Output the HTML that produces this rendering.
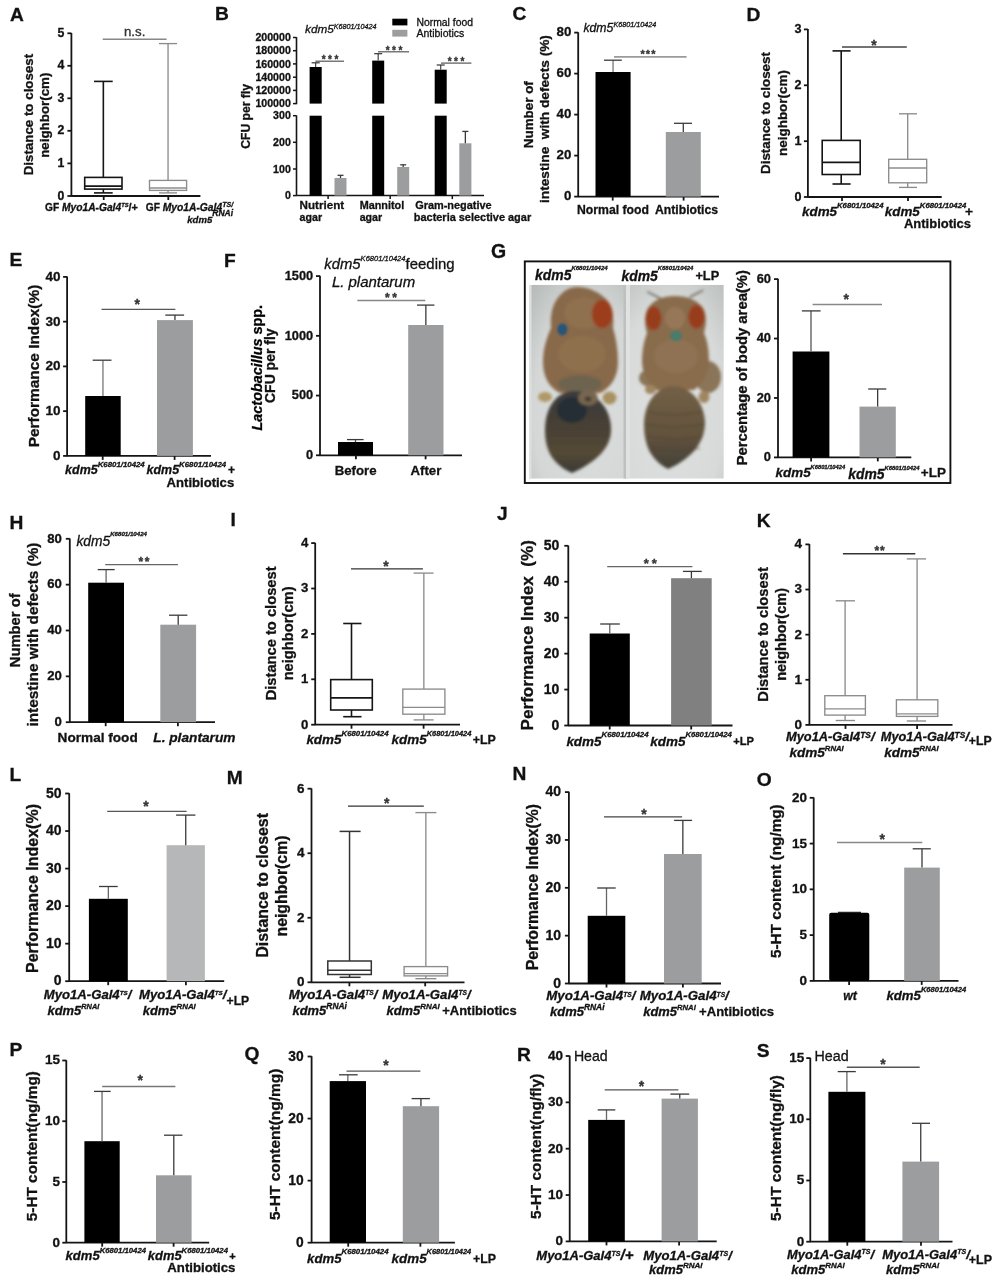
<!DOCTYPE html>
<html><head><meta charset="utf-8"><style>
html,body{margin:0;padding:0;background:#fff;width:998px;height:1281px;overflow:hidden}
svg{display:block;font-family:"Liberation Sans", sans-serif;will-change:transform}
text{stroke:#111;stroke-width:0.3px;paint-order:stroke}

</style></head><body>
<svg width="998" height="1281" viewBox="0 0 998 1281">
<rect width="998" height="1281" fill="#fff"/>

<text x="10.00" y="20.50" font-size="19.20" font-weight="bold" font-style="normal" text-anchor="start" fill="#111">A</text>
<line x1="71.40" y1="33.00" x2="71.40" y2="196.30" stroke="#151515" stroke-width="1.8"/>
<line x1="67.40" y1="33.30" x2="71.40" y2="33.30" stroke="#151515" stroke-width="1.8"/>
<text x="64.40" y="36.87" font-size="12.30" font-weight="bold" font-style="normal" text-anchor="end" fill="#111">5</text>
<line x1="67.40" y1="65.80" x2="71.40" y2="65.80" stroke="#151515" stroke-width="1.8"/>
<text x="64.40" y="69.37" font-size="12.30" font-weight="bold" font-style="normal" text-anchor="end" fill="#111">4</text>
<line x1="67.40" y1="98.30" x2="71.40" y2="98.30" stroke="#151515" stroke-width="1.8"/>
<text x="64.40" y="101.87" font-size="12.30" font-weight="bold" font-style="normal" text-anchor="end" fill="#111">3</text>
<line x1="67.40" y1="130.80" x2="71.40" y2="130.80" stroke="#151515" stroke-width="1.8"/>
<text x="64.40" y="134.37" font-size="12.30" font-weight="bold" font-style="normal" text-anchor="end" fill="#111">2</text>
<line x1="67.40" y1="163.40" x2="71.40" y2="163.40" stroke="#151515" stroke-width="1.8"/>
<text x="64.40" y="166.97" font-size="12.30" font-weight="bold" font-style="normal" text-anchor="end" fill="#111">1</text>
<line x1="67.40" y1="196.00" x2="71.40" y2="196.00" stroke="#151515" stroke-width="1.8"/>
<text x="64.40" y="199.57" font-size="12.30" font-weight="bold" font-style="normal" text-anchor="end" fill="#111">0</text>
<line x1="71.10" y1="196.00" x2="200.40" y2="196.00" stroke="#151515" stroke-width="1.8"/>
<line x1="103.70" y1="196.00" x2="103.70" y2="200.00" stroke="#151515" stroke-width="1.8"/>
<line x1="168.30" y1="196.00" x2="168.30" y2="200.00" stroke="#151515" stroke-width="1.8"/>
<rect x="84.70" y="177.40" width="37.30" height="11.70" fill="none" stroke="#151515" stroke-width="1.6"/>
<line x1="84.70" y1="186.10" x2="122.00" y2="186.10" stroke="#151515" stroke-width="1.6"/>
<line x1="103.35" y1="177.40" x2="103.35" y2="81.40" stroke="#151515" stroke-width="1.6"/>
<line x1="103.35" y1="189.10" x2="103.35" y2="192.90" stroke="#151515" stroke-width="1.6"/>
<line x1="94.00" y1="81.40" x2="112.70" y2="81.40" stroke="#151515" stroke-width="1.6"/>
<line x1="94.00" y1="192.90" x2="112.70" y2="192.90" stroke="#151515" stroke-width="1.6"/>
<rect x="149.50" y="180.40" width="37.10" height="10.00" fill="none" stroke="#8c8c8c" stroke-width="1.35"/>
<line x1="149.50" y1="188.00" x2="186.60" y2="188.00" stroke="#8c8c8c" stroke-width="1.35"/>
<line x1="168.05" y1="180.40" x2="168.05" y2="43.60" stroke="#8c8c8c" stroke-width="1.35"/>
<line x1="168.05" y1="190.40" x2="168.05" y2="192.90" stroke="#8c8c8c" stroke-width="1.35"/>
<line x1="159.00" y1="43.60" x2="177.00" y2="43.60" stroke="#8c8c8c" stroke-width="1.35"/>
<line x1="159.00" y1="192.90" x2="177.00" y2="192.90" stroke="#8c8c8c" stroke-width="1.35"/>
<line x1="102.70" y1="39.30" x2="166.60" y2="39.30" stroke="#888" stroke-width="1.5"/>
<text x="124.00" y="36.30" font-size="13.22" font-weight="normal" font-style="normal" text-anchor="start" fill="#333">n.s.</text>
<text x="33.40" y="114.60" font-size="13.33" font-weight="bold" font-style="normal" text-anchor="middle" fill="#111" transform="rotate(-90 33.40 114.60)">Distance to closest</text>
<text x="49.30" y="115.20" font-size="13.34" font-weight="bold" font-style="normal" text-anchor="middle" fill="#111" transform="rotate(-90 49.30 115.20)">neighbor(cm)</text>
<g transform="translate(0.00,0)"><text x="45.00" y="210.60" font-size="10.20" font-weight="bold" font-style="normal" fill="#111">GF </text><text x="62.00" y="210.60" font-size="10.24" font-weight="bold" font-style="italic" fill="#111">Myo1A-Gal4</text><text x="121.20" y="206.60" font-size="5.79" font-weight="bold" font-style="italic" fill="#111">TS</text><text x="128.60" y="210.60" font-size="10.91" font-weight="bold" font-style="normal" fill="#111">/+</text></g>
<g transform="translate(0.00,0)"><text x="145.80" y="210.60" font-size="10.20" font-weight="bold" font-style="normal" fill="#111">GF </text><text x="162.80" y="210.60" font-size="10.28" font-weight="bold" font-style="italic" fill="#111">Myo1A-Gal4</text><text x="222.20" y="207.10" font-size="7.07" font-weight="bold" font-style="italic" fill="#111">TS/</text></g>
<g transform="translate(0.00,0)"><text x="187.30" y="223.00" font-size="9.57" font-weight="bold" font-style="italic" fill="#111">kdm5</text><text x="212.30" y="215.50" font-size="8.47" font-weight="bold" font-style="italic" fill="#111">RNAi</text></g>
<text x="215.00" y="20.20" font-size="19.20" font-weight="bold" font-style="normal" text-anchor="start" fill="#111">B</text>
<line x1="296.50" y1="37.20" x2="296.50" y2="104.20" stroke="#151515" stroke-width="1.6"/>
<line x1="293.00" y1="37.50" x2="296.50" y2="37.50" stroke="#151515" stroke-width="1.5"/>
<text x="290.80" y="41.26" font-size="10.60" font-weight="bold" font-style="normal" text-anchor="end" fill="#111">200000</text>
<line x1="293.00" y1="50.70" x2="296.50" y2="50.70" stroke="#151515" stroke-width="1.5"/>
<text x="290.80" y="54.46" font-size="10.60" font-weight="bold" font-style="normal" text-anchor="end" fill="#111">180000</text>
<line x1="293.00" y1="63.90" x2="296.50" y2="63.90" stroke="#151515" stroke-width="1.5"/>
<text x="290.80" y="67.66" font-size="10.60" font-weight="bold" font-style="normal" text-anchor="end" fill="#111">160000</text>
<line x1="293.00" y1="77.20" x2="296.50" y2="77.20" stroke="#151515" stroke-width="1.5"/>
<text x="290.80" y="80.96" font-size="10.60" font-weight="bold" font-style="normal" text-anchor="end" fill="#111">140000</text>
<line x1="293.00" y1="90.40" x2="296.50" y2="90.40" stroke="#151515" stroke-width="1.5"/>
<text x="290.80" y="94.16" font-size="10.60" font-weight="bold" font-style="normal" text-anchor="end" fill="#111">120000</text>
<line x1="293.00" y1="103.60" x2="296.50" y2="103.60" stroke="#151515" stroke-width="1.5"/>
<text x="290.80" y="107.36" font-size="10.60" font-weight="bold" font-style="normal" text-anchor="end" fill="#111">100000</text>
<line x1="296.50" y1="115.40" x2="296.50" y2="195.60" stroke="#151515" stroke-width="1.6"/>
<line x1="293.00" y1="115.70" x2="296.50" y2="115.70" stroke="#151515" stroke-width="1.5"/>
<text x="290.80" y="119.46" font-size="10.60" font-weight="bold" font-style="normal" text-anchor="end" fill="#111">300</text>
<line x1="293.00" y1="142.30" x2="296.50" y2="142.30" stroke="#151515" stroke-width="1.5"/>
<text x="290.80" y="146.06" font-size="10.60" font-weight="bold" font-style="normal" text-anchor="end" fill="#111">200</text>
<line x1="293.00" y1="169.00" x2="296.50" y2="169.00" stroke="#151515" stroke-width="1.5"/>
<text x="290.80" y="172.76" font-size="10.60" font-weight="bold" font-style="normal" text-anchor="end" fill="#111">100</text>
<line x1="293.00" y1="195.60" x2="296.50" y2="195.60" stroke="#151515" stroke-width="1.5"/>
<text x="290.80" y="199.36" font-size="10.60" font-weight="bold" font-style="normal" text-anchor="end" fill="#111">0</text>
<line x1="296.20" y1="195.60" x2="484.00" y2="195.60" stroke="#151515" stroke-width="1.5"/>
<line x1="328.10" y1="195.60" x2="328.10" y2="199.10" stroke="#151515" stroke-width="1.5"/>
<line x1="390.20" y1="195.60" x2="390.20" y2="199.10" stroke="#151515" stroke-width="1.5"/>
<line x1="452.30" y1="195.60" x2="452.30" y2="199.10" stroke="#151515" stroke-width="1.5"/>
<rect x="309.60" y="67.00" width="12.10" height="36.60" fill="#000"/>
<rect x="309.60" y="115.70" width="12.10" height="79.90" fill="#000"/>
<line x1="315.65" y1="67.00" x2="315.65" y2="62.80" stroke="#444" stroke-width="1.2"/>
<line x1="311.60" y1="62.80" x2="319.70" y2="62.80" stroke="#333" stroke-width="1.2"/>
<rect x="372.20" y="60.60" width="12.00" height="43.00" fill="#000"/>
<rect x="372.20" y="115.70" width="12.00" height="79.90" fill="#000"/>
<line x1="378.20" y1="60.60" x2="378.20" y2="53.70" stroke="#444" stroke-width="1.2"/>
<line x1="374.20" y1="53.70" x2="382.20" y2="53.70" stroke="#333" stroke-width="1.2"/>
<rect x="434.70" y="69.70" width="12.00" height="33.90" fill="#000"/>
<rect x="434.70" y="115.70" width="12.00" height="79.90" fill="#000"/>
<line x1="440.70" y1="69.70" x2="440.70" y2="65.00" stroke="#444" stroke-width="1.2"/>
<line x1="436.70" y1="65.00" x2="444.70" y2="65.00" stroke="#333" stroke-width="1.2"/>
<rect x="334.50" y="178.00" width="12.00" height="17.60" fill="#9c9d9f"/>
<line x1="340.50" y1="178.00" x2="340.50" y2="175.30" stroke="#3a3a3a" stroke-width="1.3"/>
<line x1="337.50" y1="175.30" x2="343.50" y2="175.30" stroke="#3a3a3a" stroke-width="1.3"/>
<rect x="397.20" y="167.00" width="12.00" height="28.60" fill="#9c9d9f"/>
<line x1="403.20" y1="167.00" x2="403.20" y2="164.80" stroke="#3a3a3a" stroke-width="1.3"/>
<line x1="400.20" y1="164.80" x2="406.20" y2="164.80" stroke="#3a3a3a" stroke-width="1.3"/>
<rect x="459.30" y="143.30" width="12.10" height="52.30" fill="#9c9d9f"/>
<line x1="465.35" y1="143.30" x2="465.35" y2="131.40" stroke="#3a3a3a" stroke-width="1.3"/>
<line x1="462.30" y1="131.40" x2="468.40" y2="131.40" stroke="#3a3a3a" stroke-width="1.3"/>
<line x1="315.40" y1="61.20" x2="344.00" y2="61.20" stroke="#555" stroke-width="1.2"/>
<text x="330.00" y="62.90" font-size="10" font-weight="bold" text-anchor="middle" fill="#333" textLength="16.60" lengthAdjust="spacing">***</text>
<line x1="378.00" y1="51.80" x2="409.00" y2="51.80" stroke="#555" stroke-width="1.2"/>
<text x="394.00" y="53.70" font-size="10" font-weight="bold" text-anchor="middle" fill="#333" textLength="16.60" lengthAdjust="spacing">***</text>
<line x1="441.00" y1="63.10" x2="471.40" y2="63.10" stroke="#555" stroke-width="1.2"/>
<text x="456.00" y="64.70" font-size="10" font-weight="bold" text-anchor="middle" fill="#333" textLength="16.60" lengthAdjust="spacing">***</text>
<rect x="392.30" y="18.70" width="15.10" height="6.70" fill="#000"/>
<rect x="392.30" y="29.80" width="15.10" height="6.80" fill="#9c9d9f"/>
<text x="416.50" y="25.60" font-size="10.37" font-weight="normal" font-style="normal" text-anchor="start" fill="#111">Normal food</text>
<text x="416.50" y="36.60" font-size="10.47" font-weight="normal" font-style="normal" text-anchor="start" fill="#111">Antibiotics</text>
<g transform="translate(0.00,0)"><text x="305.00" y="33.00" font-size="11.78" font-weight="normal" font-style="italic" fill="#111">kdm5</text><text x="333.80" y="28.50" font-size="7.18" font-weight="normal" font-style="italic" fill="#111">K6801/10424</text></g>
<text x="250.20" y="116.40" font-size="12.15" font-weight="bold" font-style="normal" text-anchor="middle" fill="#111" transform="rotate(-90 250.20 116.40)">CFU per fly</text>
<text x="299.60" y="209.40" font-size="11.61" font-weight="bold" font-style="normal" text-anchor="start" fill="#111">Nutrient</text>
<text x="299.60" y="220.50" font-size="10.61" font-weight="bold" font-style="normal" text-anchor="start" fill="#111">agar</text>
<text x="359.70" y="209.40" font-size="10.83" font-weight="bold" font-style="normal" text-anchor="start" fill="#111">Mannitol</text>
<text x="359.70" y="220.50" font-size="10.61" font-weight="bold" font-style="normal" text-anchor="start" fill="#111">agar</text>
<text x="415.20" y="209.40" font-size="10.93" font-weight="bold" font-style="normal" text-anchor="start" fill="#111">Gram-negative</text>
<text x="413.80" y="220.50" font-size="10.95" font-weight="bold" font-style="normal" text-anchor="start" fill="#111">bacteria selective agar</text>
<text x="512.50" y="20.00" font-size="19.20" font-weight="bold" font-style="normal" text-anchor="start" fill="#111">C</text>
<line x1="578.20" y1="32.30" x2="578.20" y2="196.90" stroke="#151515" stroke-width="1.8"/>
<line x1="574.20" y1="32.60" x2="578.20" y2="32.60" stroke="#151515" stroke-width="1.8"/>
<text x="571.40" y="36.46" font-size="13.30" font-weight="bold" font-style="normal" text-anchor="end" fill="#111">80</text>
<line x1="574.20" y1="73.60" x2="578.20" y2="73.60" stroke="#151515" stroke-width="1.8"/>
<text x="571.40" y="77.46" font-size="13.30" font-weight="bold" font-style="normal" text-anchor="end" fill="#111">60</text>
<line x1="574.20" y1="114.60" x2="578.20" y2="114.60" stroke="#151515" stroke-width="1.8"/>
<text x="571.40" y="118.46" font-size="13.30" font-weight="bold" font-style="normal" text-anchor="end" fill="#111">40</text>
<line x1="574.20" y1="155.60" x2="578.20" y2="155.60" stroke="#151515" stroke-width="1.8"/>
<text x="571.40" y="159.46" font-size="13.30" font-weight="bold" font-style="normal" text-anchor="end" fill="#111">20</text>
<line x1="574.20" y1="196.60" x2="578.20" y2="196.60" stroke="#151515" stroke-width="1.8"/>
<text x="571.40" y="200.46" font-size="13.30" font-weight="bold" font-style="normal" text-anchor="end" fill="#111">0</text>
<line x1="577.90" y1="196.60" x2="719.00" y2="196.60" stroke="#151515" stroke-width="1.8"/>
<line x1="612.70" y1="196.60" x2="612.70" y2="200.60" stroke="#151515" stroke-width="1.8"/>
<line x1="683.60" y1="196.60" x2="683.60" y2="200.60" stroke="#151515" stroke-width="1.8"/>
<rect x="595.50" y="72.00" width="35.10" height="124.60" fill="#000"/>
<line x1="613.05" y1="72.00" x2="613.05" y2="60.20" stroke="#777" stroke-width="1.3"/>
<line x1="604.00" y1="60.20" x2="621.80" y2="60.20" stroke="#3a3a3a" stroke-width="1.3"/>
<rect x="665.80" y="132.00" width="35.00" height="64.60" fill="#9c9d9f"/>
<line x1="683.30" y1="132.00" x2="683.30" y2="123.30" stroke="#3a3a3a" stroke-width="1.3"/>
<line x1="674.00" y1="123.30" x2="692.00" y2="123.30" stroke="#3a3a3a" stroke-width="1.3"/>
<line x1="614.00" y1="56.90" x2="686.60" y2="56.90" stroke="#9a9a9a" stroke-width="1.7"/>
<text x="648.00" y="58.11" font-size="11" font-weight="bold" text-anchor="middle" fill="#333" textLength="15.00" lengthAdjust="spacing">***</text>
<g transform="translate(0.00,0)"><text x="583.40" y="32.00" font-size="12.27" font-weight="normal" font-style="italic" fill="#111">kdm5</text><text x="613.40" y="27.00" font-size="7.23" font-weight="normal" font-style="italic" fill="#111">K6801/10424</text></g>
<text x="532.80" y="114.70" font-size="13.40" font-weight="bold" font-style="normal" text-anchor="middle" fill="#111" transform="rotate(-90 532.80 114.70)">Number of</text>
<text x="549.30" y="119.00" font-size="13.68" font-weight="bold" font-style="normal" text-anchor="middle" fill="#111" transform="rotate(-90 549.30 119.00)">intestine  with defects (%)</text>
<text x="577.00" y="214.00" font-size="12.23" font-weight="bold" font-style="normal" text-anchor="start" fill="#111">Normal food</text>
<text x="655.00" y="214.00" font-size="12.19" font-weight="bold" font-style="normal" text-anchor="start" fill="#111">Antibiotics</text>
<text x="746.50" y="20.70" font-size="19.20" font-weight="bold" font-style="normal" text-anchor="start" fill="#111">D</text>
<line x1="807.90" y1="29.10" x2="807.90" y2="197.30" stroke="#151515" stroke-width="1.8"/>
<line x1="803.90" y1="29.40" x2="807.90" y2="29.40" stroke="#151515" stroke-width="1.8"/>
<text x="801.50" y="33.05" font-size="12.60" font-weight="bold" font-style="normal" text-anchor="end" fill="#111">3</text>
<line x1="803.90" y1="85.30" x2="807.90" y2="85.30" stroke="#151515" stroke-width="1.8"/>
<text x="801.50" y="88.95" font-size="12.60" font-weight="bold" font-style="normal" text-anchor="end" fill="#111">2</text>
<line x1="803.90" y1="141.20" x2="807.90" y2="141.20" stroke="#151515" stroke-width="1.8"/>
<text x="801.50" y="144.85" font-size="12.60" font-weight="bold" font-style="normal" text-anchor="end" fill="#111">1</text>
<line x1="803.90" y1="197.00" x2="807.90" y2="197.00" stroke="#151515" stroke-width="1.8"/>
<text x="801.50" y="200.65" font-size="12.60" font-weight="bold" font-style="normal" text-anchor="end" fill="#111">0</text>
<line x1="807.40" y1="197.00" x2="941.70" y2="197.00" stroke="#151515" stroke-width="1.8"/>
<line x1="842.00" y1="197.00" x2="842.00" y2="201.00" stroke="#151515" stroke-width="1.8"/>
<line x1="908.00" y1="197.00" x2="908.00" y2="201.00" stroke="#151515" stroke-width="1.8"/>
<rect x="822.20" y="140.40" width="38.00" height="34.10" fill="none" stroke="#151515" stroke-width="1.6"/>
<line x1="822.20" y1="162.40" x2="860.20" y2="162.40" stroke="#151515" stroke-width="1.6"/>
<line x1="841.20" y1="140.40" x2="841.20" y2="50.90" stroke="#151515" stroke-width="1.6"/>
<line x1="841.20" y1="174.50" x2="841.20" y2="184.00" stroke="#151515" stroke-width="1.6"/>
<line x1="832.50" y1="50.90" x2="850.60" y2="50.90" stroke="#151515" stroke-width="1.6"/>
<line x1="832.50" y1="184.00" x2="850.60" y2="184.00" stroke="#151515" stroke-width="1.6"/>
<rect x="888.70" y="159.30" width="38.00" height="23.50" fill="none" stroke="#8c8c8c" stroke-width="1.35"/>
<line x1="888.70" y1="168.00" x2="926.70" y2="168.00" stroke="#8c8c8c" stroke-width="1.35"/>
<line x1="907.70" y1="159.30" x2="907.70" y2="113.80" stroke="#8c8c8c" stroke-width="1.35"/>
<line x1="907.70" y1="182.80" x2="907.70" y2="187.40" stroke="#8c8c8c" stroke-width="1.35"/>
<line x1="899.00" y1="113.80" x2="917.00" y2="113.80" stroke="#8c8c8c" stroke-width="1.35"/>
<line x1="899.00" y1="187.40" x2="917.00" y2="187.40" stroke="#8c8c8c" stroke-width="1.35"/>
<line x1="842.00" y1="47.00" x2="906.80" y2="47.00" stroke="#444" stroke-width="1.3"/>
<text x="874.00" y="49.64" font-size="14" font-weight="bold" text-anchor="middle" fill="#333" textLength="5.50" lengthAdjust="spacing">*</text>
<text x="769.60" y="113.00" font-size="13.39" font-weight="bold" font-style="normal" text-anchor="middle" fill="#111" transform="rotate(-90 769.60 113.00)">Distance to closest</text>
<text x="786.50" y="113.00" font-size="13.46" font-weight="bold" font-style="normal" text-anchor="middle" fill="#111" transform="rotate(-90 786.50 113.00)">neighbor(cm)</text>
<g transform="translate(0.00,0)"><text x="802.00" y="215.90" font-size="13.40" font-weight="bold" font-style="italic" fill="#111">kdm5</text><text x="837.00" y="208.40" font-size="7.74" font-weight="bold" font-style="italic" fill="#111">K6801/10424</text></g>
<g transform="translate(0.00,0)"><text x="884.80" y="215.90" font-size="13.40" font-weight="bold" font-style="italic" fill="#111">kdm5</text><text x="919.80" y="208.40" font-size="7.74" font-weight="bold" font-style="italic" fill="#111">K6801/10424</text></g>
<text x="965.00" y="215.90" font-size="13.70" font-weight="bold" font-style="normal" text-anchor="start" fill="#111">+</text>
<text x="904.00" y="227.50" font-size="12.97" font-weight="bold" font-style="normal" text-anchor="start" fill="#111">Antibiotics</text>
<text x="9.50" y="266.00" font-size="19.20" font-weight="bold" font-style="normal" text-anchor="start" fill="#111">E</text>
<line x1="67.10" y1="276.60" x2="67.10" y2="456.20" stroke="#151515" stroke-width="1.8"/>
<line x1="63.10" y1="276.90" x2="67.10" y2="276.90" stroke="#151515" stroke-width="1.8"/>
<text x="60.60" y="280.81" font-size="13.50" font-weight="bold" font-style="normal" text-anchor="end" fill="#111">40</text>
<line x1="63.10" y1="321.65" x2="67.10" y2="321.65" stroke="#151515" stroke-width="1.8"/>
<text x="60.60" y="325.56" font-size="13.50" font-weight="bold" font-style="normal" text-anchor="end" fill="#111">30</text>
<line x1="63.10" y1="366.40" x2="67.10" y2="366.40" stroke="#151515" stroke-width="1.8"/>
<text x="60.60" y="370.31" font-size="13.50" font-weight="bold" font-style="normal" text-anchor="end" fill="#111">20</text>
<line x1="63.10" y1="411.15" x2="67.10" y2="411.15" stroke="#151515" stroke-width="1.8"/>
<text x="60.60" y="415.06" font-size="13.50" font-weight="bold" font-style="normal" text-anchor="end" fill="#111">10</text>
<line x1="63.10" y1="455.90" x2="67.10" y2="455.90" stroke="#151515" stroke-width="1.8"/>
<text x="60.60" y="459.81" font-size="13.50" font-weight="bold" font-style="normal" text-anchor="end" fill="#111">0</text>
<line x1="66.80" y1="455.90" x2="211.00" y2="455.90" stroke="#151515" stroke-width="1.8"/>
<line x1="102.70" y1="455.90" x2="102.70" y2="459.90" stroke="#151515" stroke-width="1.8"/>
<line x1="174.60" y1="455.90" x2="174.60" y2="459.90" stroke="#151515" stroke-width="1.8"/>
<rect x="85.20" y="396.00" width="35.50" height="59.90" fill="#000"/>
<line x1="102.95" y1="396.00" x2="102.95" y2="360.20" stroke="#777" stroke-width="1.3"/>
<line x1="92.70" y1="360.20" x2="111.50" y2="360.20" stroke="#3a3a3a" stroke-width="1.3"/>
<rect x="157.00" y="320.10" width="35.90" height="135.80" fill="#9c9d9f"/>
<line x1="174.95" y1="320.10" x2="174.95" y2="315.10" stroke="#3a3a3a" stroke-width="1.3"/>
<line x1="165.30" y1="315.10" x2="184.10" y2="315.10" stroke="#3a3a3a" stroke-width="1.3"/>
<line x1="101.50" y1="309.40" x2="175.40" y2="309.40" stroke="#555" stroke-width="1.3"/>
<text x="137.30" y="308.64" font-size="14" font-weight="bold" text-anchor="middle" fill="#333" textLength="5.50" lengthAdjust="spacing">*</text>
<text x="38.60" y="366.00" font-size="15.42" font-weight="bold" font-style="normal" text-anchor="middle" fill="#111" transform="rotate(-90 38.60 366.00)">Performance Index(%)</text>
<g transform="translate(0.00,0)"><text x="65.10" y="474.20" font-size="12.48" font-weight="bold" font-style="italic" fill="#111">kdm5</text><text x="97.70" y="466.70" font-size="7.83" font-weight="bold" font-style="italic" fill="#111">K6801/10424</text></g>
<g transform="translate(0.00,0)"><text x="146.50" y="474.20" font-size="12.48" font-weight="bold" font-style="italic" fill="#111">kdm5</text><text x="179.10" y="466.70" font-size="7.83" font-weight="bold" font-style="italic" fill="#111">K6801/10424</text></g>
<text x="228.00" y="473.50" font-size="11.99" font-weight="bold" font-style="normal" text-anchor="start" fill="#111">+</text>
<text x="166.60" y="486.70" font-size="13.09" font-weight="bold" font-style="normal" text-anchor="start" fill="#111">Antibiotics</text>
<text x="224.00" y="266.50" font-size="19.20" font-weight="bold" font-style="normal" text-anchor="start" fill="#111">F</text>
<line x1="320.00" y1="275.80" x2="320.00" y2="455.60" stroke="#151515" stroke-width="1.8"/>
<line x1="316.00" y1="276.10" x2="320.00" y2="276.10" stroke="#151515" stroke-width="1.8"/>
<text x="313.20" y="279.81" font-size="12.80" font-weight="bold" font-style="normal" text-anchor="end" fill="#111">1500</text>
<line x1="316.00" y1="335.83" x2="320.00" y2="335.83" stroke="#151515" stroke-width="1.8"/>
<text x="313.20" y="339.54" font-size="12.80" font-weight="bold" font-style="normal" text-anchor="end" fill="#111">1000</text>
<line x1="316.00" y1="395.57" x2="320.00" y2="395.57" stroke="#151515" stroke-width="1.8"/>
<text x="313.20" y="399.28" font-size="12.80" font-weight="bold" font-style="normal" text-anchor="end" fill="#111">500</text>
<line x1="316.00" y1="455.30" x2="320.00" y2="455.30" stroke="#151515" stroke-width="1.8"/>
<text x="313.20" y="459.01" font-size="12.80" font-weight="bold" font-style="normal" text-anchor="end" fill="#111">0</text>
<line x1="319.70" y1="455.30" x2="462.00" y2="455.30" stroke="#151515" stroke-width="1.8"/>
<line x1="355.90" y1="455.30" x2="355.90" y2="459.30" stroke="#151515" stroke-width="1.8"/>
<line x1="425.60" y1="455.30" x2="425.60" y2="459.30" stroke="#151515" stroke-width="1.8"/>
<rect x="338.00" y="442.00" width="35.00" height="13.30" fill="#000"/>
<line x1="355.50" y1="442.00" x2="355.50" y2="439.60" stroke="#555" stroke-width="1.3"/>
<line x1="347.00" y1="439.60" x2="363.60" y2="439.60" stroke="#3a3a3a" stroke-width="1.3"/>
<rect x="408.20" y="325.00" width="35.30" height="130.30" fill="#9c9d9f"/>
<line x1="425.85" y1="325.00" x2="425.85" y2="305.10" stroke="#3a3a3a" stroke-width="1.3"/>
<line x1="417.00" y1="305.10" x2="434.40" y2="305.10" stroke="#3a3a3a" stroke-width="1.3"/>
<line x1="357.30" y1="300.40" x2="425.30" y2="300.40" stroke="#888" stroke-width="1.5"/>
<text x="391.00" y="301.62" font-size="12" font-weight="bold" text-anchor="middle" fill="#333" textLength="12.00" lengthAdjust="spacing">**</text>
<g transform="translate(0.00,0)"><text x="324.20" y="268.70" font-size="14.89" font-weight="normal" font-style="italic" fill="#111">kdm5</text><text x="360.60" y="260.50" font-size="7.56" font-weight="normal" font-style="italic" fill="#111">K6801/10424</text><text x="405.60" y="268.70" font-size="14.94" font-weight="normal" font-style="normal" fill="#111">feeding</text></g>
<text x="331.90" y="286.60" font-size="14.97" font-weight="normal" font-style="italic" text-anchor="start" fill="#111">L. plantarum</text>
<text transform="rotate(-90 262.2 367.7)" x="262.2" y="367.7" text-anchor="middle" font-size="14.39" font-weight="bold"><tspan font-style="italic">Lactobacillus</tspan> spp.</text>
<text x="275.50" y="365.70" font-size="13.97" font-weight="bold" font-style="normal" text-anchor="middle" fill="#111" transform="rotate(-90 275.50 365.70)">CFU per fly</text>
<text x="334.70" y="474.60" font-size="13.23" font-weight="bold" font-style="normal" text-anchor="start" fill="#111">Before</text>
<text x="410.50" y="474.60" font-size="13.20" font-weight="bold" font-style="normal" text-anchor="start" fill="#111">After</text>
<text x="491.00" y="258.00" font-size="19.50" font-weight="bold" font-style="normal" text-anchor="start" fill="#111">G</text>

<defs>
<clipPath id="cp1"><rect x="529" y="284.8" width="97" height="193.9"/></clipPath>
<clipPath id="cp2"><rect x="626" y="284.8" width="97.8" height="193.9"/></clipPath>
<filter id="b1" x="-30%" y="-30%" width="160%" height="160%"><feGaussianBlur stdDeviation="1.5"/></filter>
<filter id="b0" x="-30%" y="-30%" width="160%" height="160%"><feGaussianBlur stdDeviation="0.9"/></filter>
<radialGradient id="bgA" cx="0.6" cy="0.65" r="0.85">
 <stop offset="0" stop-color="#dcdfde"/><stop offset="0.65" stop-color="#d4d7d6"/><stop offset="1" stop-color="#b6bbba"/>
</radialGradient>
<radialGradient id="bgB" cx="0.45" cy="0.65" r="0.85">
 <stop offset="0" stop-color="#dfe1e0"/><stop offset="0.65" stop-color="#d7dad9"/><stop offset="1" stop-color="#bcc0bf"/>
</radialGradient>
<linearGradient id="abdA" x1="0" y1="0" x2="0" y2="1">
 <stop offset="0" stop-color="#3a3a3c"/><stop offset="0.4" stop-color="#463f34"/><stop offset="0.75" stop-color="#544836"/><stop offset="1" stop-color="#3a3a34"/>
</linearGradient>
<linearGradient id="abdB" x1="0" y1="0" x2="0" y2="1">
 <stop offset="0" stop-color="#726046"/><stop offset="0.6" stop-color="#62523c"/><stop offset="1" stop-color="#434038"/>
</linearGradient>
</defs>
<g clip-path="url(#cp1)">
 <rect x="529" y="284.8" width="97" height="193.9" fill="url(#bgA)"/>
 <rect x="529" y="284.8" width="2.5" height="193.9" fill="#dde0df"/>
 <rect x="623.5" y="284.8" width="2.5" height="193.9" fill="#bcc0bf"/>
 <g filter="url(#b1)">
  <path d="M577 287 C590 287 600 293 607 300 C613 307 614 318 613 328 C616 338 618 350 618 362 C618 378 610 388 600 393 L560 393 C550 388 543 378 543 362 C543 348 547 337 551 328 C550 316 552 306 557 299 C562 292 568 287 577 287 Z" fill="#88694a"/>
  <ellipse cx="584" cy="313" rx="20" ry="16" fill="#8f7050"/>
  <ellipse cx="602.2" cy="314" rx="10.3" ry="14.2" fill="#9c3e1a"/>
  <ellipse cx="582" cy="354" rx="24" ry="18" fill="#8e6f4e"/>
  <ellipse cx="580" cy="384" rx="22" ry="9" fill="#6e6450"/>
  <ellipse cx="545" cy="397" rx="7" ry="5" fill="#b09868"/>
  <ellipse cx="609.5" cy="398" rx="7" ry="6.5" fill="#a89060"/>
  <path d="M575 391 C596 392 611 407 611 430 C611 450 592 464 572 473 C552 464 545 450 545 430 C545 408 556 391 575 391 Z" fill="url(#abdA)"/>
  <ellipse cx="572" cy="410" rx="15" ry="13" fill="#222a36" opacity="0.85"/>
  <ellipse cx="588" cy="398" rx="10" ry="7.5" fill="#786650"/>
  <ellipse cx="588" cy="399" rx="3.5" ry="2.5" fill="#3e3a34"/>
 </g>
 <ellipse cx="562.4" cy="329.5" rx="5" ry="6" fill="#26547a" filter="url(#b0)"/>
</g>
<g clip-path="url(#cp2)">
 <rect x="626" y="284.8" width="97.8" height="193.9" fill="url(#bgB)"/>
 <rect x="626" y="284.8" width="4" height="193.9" fill="#e0e2e1"/>
 <g filter="url(#b1)">
  <path d="M647.2 291.8 L660.8 298.6 M703.2 290.3 L689.6 297.1" stroke="#4c4438" stroke-width="1.2"/>
  <ellipse cx="708" cy="377" rx="13" ry="16" fill="#8a7458"/>
  <ellipse cx="650" cy="378" rx="11" ry="9" fill="#8a7458"/>
  <path d="M675 296 C690 296 700 302 704 310 C707 318 706 326 704 333 C708 342 709 352 709 362 C709 374 702 384 694 390 L656 390 C648 384 642 372 642 362 C642 350 644 341 647 333 C645 326 644 318 647 310 C651 302 660 296 675 296 Z" fill="#896c4c"/>
  <ellipse cx="675" cy="318" rx="10" ry="11" fill="#967858"/>
  <ellipse cx="653.6" cy="318.3" rx="8" ry="12" fill="#983c1c"/>
  <ellipse cx="696.5" cy="316.8" rx="8.3" ry="12" fill="#983c1c"/>
  <ellipse cx="676" cy="356" rx="22" ry="17" fill="#8e7252"/>
  <ellipse cx="650.5" cy="389.5" rx="5.5" ry="4.5" fill="#a08660"/>
  <ellipse cx="704" cy="397" rx="5.5" ry="6" fill="#a08660"/>
  <path d="M674 386 C692 387 705 404 705 424 C704 446 688 460 668 469 C651 460 644 446 644 424 C644 404 656 386 674 386 Z" fill="url(#abdB)"/>
  <path d="M648 412 Q675 418 702 412 M646 424 Q675 430 704 424 M647 436 Q675 442 703 436 M650 448 Q675 454 700 448" stroke="#4c4234" stroke-width="1.5" fill="none" opacity="0.5"/>
 </g>
 <ellipse cx="676" cy="335.7" rx="6" ry="5.3" fill="#4a7c6c" filter="url(#b0)"/>
</g>

<rect x="524.80" y="261.40" width="425.60" height="221.60" fill="none" stroke="#111" stroke-width="1.9"/>
<line x1="778.00" y1="278.80" x2="778.00" y2="457.70" stroke="#151515" stroke-width="1.8"/>
<line x1="774.00" y1="279.10" x2="778.00" y2="279.10" stroke="#151515" stroke-width="1.8"/>
<text x="771.00" y="282.84" font-size="12.90" font-weight="bold" font-style="normal" text-anchor="end" fill="#111">60</text>
<line x1="774.00" y1="338.53" x2="778.00" y2="338.53" stroke="#151515" stroke-width="1.8"/>
<text x="771.00" y="342.27" font-size="12.90" font-weight="bold" font-style="normal" text-anchor="end" fill="#111">40</text>
<line x1="774.00" y1="397.97" x2="778.00" y2="397.97" stroke="#151515" stroke-width="1.8"/>
<text x="771.00" y="401.71" font-size="12.90" font-weight="bold" font-style="normal" text-anchor="end" fill="#111">20</text>
<line x1="774.00" y1="457.40" x2="778.00" y2="457.40" stroke="#151515" stroke-width="1.8"/>
<text x="771.00" y="461.14" font-size="12.90" font-weight="bold" font-style="normal" text-anchor="end" fill="#111">0</text>
<line x1="777.70" y1="457.40" x2="911.30" y2="457.40" stroke="#151515" stroke-width="1.8"/>
<line x1="811.10" y1="457.40" x2="811.10" y2="461.40" stroke="#151515" stroke-width="1.8"/>
<line x1="877.80" y1="457.40" x2="877.80" y2="461.40" stroke="#151515" stroke-width="1.8"/>
<rect x="792.60" y="351.50" width="36.80" height="105.90" fill="#000"/>
<line x1="811.00" y1="351.50" x2="811.00" y2="310.90" stroke="#555" stroke-width="1.3"/>
<line x1="801.90" y1="310.90" x2="820.60" y2="310.90" stroke="#3a3a3a" stroke-width="1.3"/>
<rect x="859.50" y="406.60" width="36.30" height="50.80" fill="#9c9d9f"/>
<line x1="877.65" y1="406.60" x2="877.65" y2="389.00" stroke="#3a3a3a" stroke-width="1.3"/>
<line x1="868.20" y1="389.00" x2="886.30" y2="389.00" stroke="#3a3a3a" stroke-width="1.3"/>
<line x1="812.60" y1="304.40" x2="882.00" y2="304.40" stroke="#888" stroke-width="1.5"/>
<text x="846.20" y="304.14" font-size="14" font-weight="bold" text-anchor="middle" fill="#333" textLength="5.50" lengthAdjust="spacing">*</text>
<text x="747.20" y="367.70" font-size="14.84" font-weight="bold" font-style="normal" text-anchor="middle" fill="#111" transform="rotate(-90 747.20 367.70)">Percentage of body area(%)</text>
<g transform="translate(0.00,0)"><text x="775.60" y="477.20" font-size="13.40" font-weight="bold" font-style="italic" fill="#111">kdm5</text><text x="810.60" y="468.80" font-size="5.76" font-weight="bold" font-style="italic" fill="#111">K6801/10424</text></g>
<g transform="translate(0.00,0)"><text x="848.20" y="478.60" font-size="13.90" font-weight="bold" font-style="italic" fill="#111">kdm5</text><text x="884.50" y="470.00" font-size="5.83" font-weight="bold" font-style="italic" fill="#111">K6801/10424</text></g>
<text x="920.80" y="477.40" font-size="13.48" font-weight="bold" font-style="normal" text-anchor="start" fill="#111">+LP</text>
<g transform="translate(0.00,0)"><text x="535.00" y="279.50" font-size="13.93" font-weight="bold" font-style="italic" fill="#111">kdm5</text><text x="571.40" y="270.00" font-size="6.05" font-weight="bold" font-style="italic" fill="#111">K6801/10424</text></g>
<g transform="translate(0.00,0)"><text x="621.50" y="280.60" font-size="13.90" font-weight="bold" font-style="italic" fill="#111">kdm5</text><text x="657.80" y="270.00" font-size="5.91" font-weight="bold" font-style="italic" fill="#111">K6801/10424</text></g>
<text x="695.40" y="280.40" font-size="12.78" font-weight="bold" font-style="normal" text-anchor="start" fill="#111">+LP</text>
<text x="9.50" y="528.80" font-size="19.20" font-weight="bold" font-style="normal" text-anchor="start" fill="#111">H</text>
<line x1="69.80" y1="538.50" x2="69.80" y2="722.50" stroke="#151515" stroke-width="1.8"/>
<line x1="65.80" y1="538.80" x2="69.80" y2="538.80" stroke="#151515" stroke-width="1.8"/>
<text x="61.80" y="542.63" font-size="13.20" font-weight="bold" font-style="normal" text-anchor="end" fill="#111">80</text>
<line x1="65.80" y1="584.65" x2="69.80" y2="584.65" stroke="#151515" stroke-width="1.8"/>
<text x="61.80" y="588.48" font-size="13.20" font-weight="bold" font-style="normal" text-anchor="end" fill="#111">60</text>
<line x1="65.80" y1="630.50" x2="69.80" y2="630.50" stroke="#151515" stroke-width="1.8"/>
<text x="61.80" y="634.33" font-size="13.20" font-weight="bold" font-style="normal" text-anchor="end" fill="#111">40</text>
<line x1="65.80" y1="676.35" x2="69.80" y2="676.35" stroke="#151515" stroke-width="1.8"/>
<text x="61.80" y="680.18" font-size="13.20" font-weight="bold" font-style="normal" text-anchor="end" fill="#111">20</text>
<line x1="65.80" y1="722.20" x2="69.80" y2="722.20" stroke="#151515" stroke-width="1.8"/>
<text x="61.80" y="726.03" font-size="13.20" font-weight="bold" font-style="normal" text-anchor="end" fill="#111">0</text>
<line x1="69.50" y1="722.20" x2="215.00" y2="722.20" stroke="#151515" stroke-width="1.8"/>
<line x1="105.70" y1="722.20" x2="105.70" y2="726.20" stroke="#151515" stroke-width="1.8"/>
<line x1="177.90" y1="722.20" x2="177.90" y2="726.20" stroke="#151515" stroke-width="1.8"/>
<rect x="88.20" y="582.70" width="35.80" height="139.50" fill="#000"/>
<line x1="106.10" y1="582.70" x2="106.10" y2="569.60" stroke="#666" stroke-width="1.3"/>
<line x1="97.70" y1="569.60" x2="114.70" y2="569.60" stroke="#3a3a3a" stroke-width="1.3"/>
<rect x="160.30" y="624.70" width="35.80" height="97.50" fill="#9c9d9f"/>
<line x1="178.20" y1="624.70" x2="178.20" y2="615.20" stroke="#3a3a3a" stroke-width="1.3"/>
<line x1="169.00" y1="615.20" x2="187.40" y2="615.20" stroke="#3a3a3a" stroke-width="1.3"/>
<line x1="105.20" y1="564.60" x2="177.90" y2="564.60" stroke="#666" stroke-width="1.4"/>
<text x="144.00" y="566.12" font-size="12" font-weight="bold" text-anchor="middle" fill="#333" textLength="11.00" lengthAdjust="spacing">**</text>
<g transform="translate(0.00,0)"><text x="76.40" y="546.30" font-size="13.82" font-weight="normal" font-style="italic" fill="#111">kdm5</text><text x="110.20" y="536.30" font-size="6.13" font-weight="bold" font-style="italic" fill="#111">K6801/10424</text></g>
<text x="20.20" y="630.30" font-size="14.80" font-weight="bold" font-style="normal" text-anchor="middle" fill="#111" transform="rotate(-90 20.20 630.30)">Number of</text>
<text x="37.80" y="634.60" font-size="15.33" font-weight="bold" font-style="normal" text-anchor="middle" fill="#111" transform="rotate(-90 37.80 634.60)">intestine with defects (%)</text>
<text x="57.60" y="741.70" font-size="13.62" font-weight="bold" font-style="normal" text-anchor="start" fill="#111">Normal food</text>
<text x="153.30" y="741.70" font-size="13.70" font-weight="bold" font-style="italic" text-anchor="start" fill="#111">L. plantarum</text>
<text x="230.50" y="526.00" font-size="19.20" font-weight="bold" font-style="normal" text-anchor="start" fill="#111">I</text>
<line x1="315.20" y1="542.80" x2="315.20" y2="725.00" stroke="#151515" stroke-width="1.8"/>
<line x1="311.20" y1="543.10" x2="315.20" y2="543.10" stroke="#151515" stroke-width="1.8"/>
<text x="308.40" y="546.93" font-size="13.20" font-weight="bold" font-style="normal" text-anchor="end" fill="#111">4</text>
<line x1="311.20" y1="588.50" x2="315.20" y2="588.50" stroke="#151515" stroke-width="1.8"/>
<text x="308.40" y="592.33" font-size="13.20" font-weight="bold" font-style="normal" text-anchor="end" fill="#111">3</text>
<line x1="311.20" y1="633.90" x2="315.20" y2="633.90" stroke="#151515" stroke-width="1.8"/>
<text x="308.40" y="637.73" font-size="13.20" font-weight="bold" font-style="normal" text-anchor="end" fill="#111">2</text>
<line x1="311.20" y1="679.30" x2="315.20" y2="679.30" stroke="#151515" stroke-width="1.8"/>
<text x="308.40" y="683.13" font-size="13.20" font-weight="bold" font-style="normal" text-anchor="end" fill="#111">1</text>
<line x1="311.20" y1="724.70" x2="315.20" y2="724.70" stroke="#151515" stroke-width="1.8"/>
<text x="308.40" y="728.53" font-size="13.20" font-weight="bold" font-style="normal" text-anchor="end" fill="#111">0</text>
<line x1="314.90" y1="724.70" x2="460.00" y2="724.70" stroke="#151515" stroke-width="1.8"/>
<line x1="351.50" y1="724.70" x2="351.50" y2="728.70" stroke="#151515" stroke-width="1.8"/>
<line x1="423.60" y1="724.70" x2="423.60" y2="728.70" stroke="#151515" stroke-width="1.8"/>
<rect x="330.70" y="679.60" width="41.60" height="30.40" fill="none" stroke="#151515" stroke-width="1.6"/>
<line x1="330.70" y1="697.90" x2="372.30" y2="697.90" stroke="#151515" stroke-width="1.6"/>
<line x1="351.50" y1="679.60" x2="351.50" y2="623.50" stroke="#151515" stroke-width="1.6"/>
<line x1="351.50" y1="710.00" x2="351.50" y2="716.70" stroke="#151515" stroke-width="1.6"/>
<line x1="343.20" y1="623.50" x2="361.50" y2="623.50" stroke="#151515" stroke-width="1.6"/>
<line x1="343.20" y1="716.70" x2="361.50" y2="716.70" stroke="#151515" stroke-width="1.6"/>
<rect x="402.80" y="689.10" width="42.10" height="25.10" fill="none" stroke="#8c8c8c" stroke-width="1.35"/>
<line x1="402.80" y1="707.40" x2="444.90" y2="707.40" stroke="#8c8c8c" stroke-width="1.35"/>
<line x1="423.85" y1="689.10" x2="423.85" y2="573.10" stroke="#8c8c8c" stroke-width="1.35"/>
<line x1="423.85" y1="714.20" x2="423.85" y2="719.90" stroke="#8c8c8c" stroke-width="1.35"/>
<line x1="413.60" y1="573.10" x2="433.60" y2="573.10" stroke="#8c8c8c" stroke-width="1.35"/>
<line x1="413.60" y1="719.90" x2="433.60" y2="719.90" stroke="#8c8c8c" stroke-width="1.35"/>
<line x1="351.00" y1="568.90" x2="422.90" y2="568.90" stroke="#333" stroke-width="1.4"/>
<text x="386.00" y="571.14" font-size="14" font-weight="bold" text-anchor="middle" fill="#333" textLength="5.50" lengthAdjust="spacing">*</text>
<text x="276.30" y="633.40" font-size="14.70" font-weight="bold" font-style="normal" text-anchor="middle" fill="#111" transform="rotate(-90 276.30 633.40)">Distance to closest</text>
<text x="292.80" y="633.40" font-size="14.71" font-weight="bold" font-style="normal" text-anchor="middle" fill="#111" transform="rotate(-90 292.80 633.40)">neighbor(cm)</text>
<g transform="translate(0.00,0)"><text x="306.40" y="744.20" font-size="13.44" font-weight="bold" font-style="italic" fill="#111">kdm5</text><text x="341.50" y="735.50" font-size="7.83" font-weight="bold" font-style="italic" fill="#111">K6801/10424</text></g>
<g transform="translate(0.00,0)"><text x="391.60" y="744.20" font-size="13.44" font-weight="bold" font-style="italic" fill="#111">kdm5</text><text x="426.70" y="735.50" font-size="7.44" font-weight="bold" font-style="italic" fill="#111">K6801/10424</text></g>
<text x="472.80" y="744.40" font-size="12.41" font-weight="bold" font-style="normal" text-anchor="start" fill="#111">+LP</text>
<text x="497.00" y="520.00" font-size="19.20" font-weight="bold" font-style="normal" text-anchor="start" fill="#111">J</text>
<line x1="568.30" y1="545.50" x2="568.30" y2="725.80" stroke="#151515" stroke-width="1.8"/>
<line x1="564.30" y1="545.80" x2="568.30" y2="545.80" stroke="#151515" stroke-width="1.8"/>
<text x="559.30" y="549.86" font-size="14.00" font-weight="bold" font-style="normal" text-anchor="end" fill="#111">50</text>
<line x1="564.30" y1="581.74" x2="568.30" y2="581.74" stroke="#151515" stroke-width="1.8"/>
<text x="559.30" y="585.80" font-size="14.00" font-weight="bold" font-style="normal" text-anchor="end" fill="#111">40</text>
<line x1="564.30" y1="617.68" x2="568.30" y2="617.68" stroke="#151515" stroke-width="1.8"/>
<text x="559.30" y="621.74" font-size="14.00" font-weight="bold" font-style="normal" text-anchor="end" fill="#111">30</text>
<line x1="564.30" y1="653.62" x2="568.30" y2="653.62" stroke="#151515" stroke-width="1.8"/>
<text x="559.30" y="657.68" font-size="14.00" font-weight="bold" font-style="normal" text-anchor="end" fill="#111">20</text>
<line x1="564.30" y1="689.56" x2="568.30" y2="689.56" stroke="#151515" stroke-width="1.8"/>
<text x="559.30" y="693.62" font-size="14.00" font-weight="bold" font-style="normal" text-anchor="end" fill="#111">10</text>
<line x1="564.30" y1="725.50" x2="568.30" y2="725.50" stroke="#151515" stroke-width="1.8"/>
<text x="559.30" y="729.56" font-size="14.00" font-weight="bold" font-style="normal" text-anchor="end" fill="#111">0</text>
<line x1="568.00" y1="725.50" x2="732.50" y2="725.50" stroke="#151515" stroke-width="1.8"/>
<line x1="609.70" y1="725.50" x2="609.70" y2="729.50" stroke="#151515" stroke-width="1.8"/>
<line x1="691.20" y1="725.50" x2="691.20" y2="729.50" stroke="#151515" stroke-width="1.8"/>
<rect x="589.70" y="633.50" width="40.10" height="92.00" fill="#000"/>
<line x1="609.75" y1="633.50" x2="609.75" y2="624.00" stroke="#666" stroke-width="1.3"/>
<line x1="600.20" y1="624.00" x2="619.80" y2="624.00" stroke="#3a3a3a" stroke-width="1.3"/>
<rect x="671.10" y="578.20" width="40.60" height="147.30" fill="#808080"/>
<line x1="691.40" y1="578.20" x2="691.40" y2="571.40" stroke="#3a3a3a" stroke-width="1.3"/>
<line x1="682.90" y1="571.40" x2="701.70" y2="571.40" stroke="#3a3a3a" stroke-width="1.3"/>
<line x1="607.20" y1="566.60" x2="692.40" y2="566.60" stroke="#666" stroke-width="1.4"/>
<text x="650.30" y="567.63" font-size="13" font-weight="bold" text-anchor="middle" fill="#333" textLength="13.00" lengthAdjust="spacing">**</text>
<text x="532.60" y="635.30" font-size="17.14" font-weight="bold" font-style="normal" text-anchor="middle" fill="#111" transform="rotate(-90 532.60 635.30)">Performance Index  (%)</text>
<g transform="translate(0.00,0)"><text x="566.40" y="745.50" font-size="13.44" font-weight="bold" font-style="italic" fill="#111">kdm5</text><text x="601.50" y="736.70" font-size="7.83" font-weight="bold" font-style="italic" fill="#111">K6801/10424</text></g>
<g transform="translate(0.00,0)"><text x="650.30" y="745.50" font-size="13.44" font-weight="bold" font-style="italic" fill="#111">kdm5</text><text x="685.40" y="736.70" font-size="7.76" font-weight="bold" font-style="italic" fill="#111">K6801/10424</text></g>
<text x="733.20" y="745.30" font-size="11.17" font-weight="bold" font-style="normal" text-anchor="start" fill="#111">+LP</text>
<text x="756.80" y="527.10" font-size="19.20" font-weight="bold" font-style="normal" text-anchor="start" fill="#111">K</text>
<line x1="809.40" y1="544.10" x2="809.40" y2="725.20" stroke="#151515" stroke-width="1.8"/>
<line x1="805.40" y1="544.40" x2="809.40" y2="544.40" stroke="#151515" stroke-width="1.8"/>
<text x="802.00" y="548.31" font-size="13.50" font-weight="bold" font-style="normal" text-anchor="end" fill="#111">4</text>
<line x1="805.40" y1="589.53" x2="809.40" y2="589.53" stroke="#151515" stroke-width="1.8"/>
<text x="802.00" y="593.44" font-size="13.50" font-weight="bold" font-style="normal" text-anchor="end" fill="#111">3</text>
<line x1="805.40" y1="634.65" x2="809.40" y2="634.65" stroke="#151515" stroke-width="1.8"/>
<text x="802.00" y="638.56" font-size="13.50" font-weight="bold" font-style="normal" text-anchor="end" fill="#111">2</text>
<line x1="805.40" y1="679.78" x2="809.40" y2="679.78" stroke="#151515" stroke-width="1.8"/>
<text x="802.00" y="683.69" font-size="13.50" font-weight="bold" font-style="normal" text-anchor="end" fill="#111">1</text>
<line x1="805.40" y1="724.90" x2="809.40" y2="724.90" stroke="#151515" stroke-width="1.8"/>
<text x="802.00" y="728.81" font-size="13.50" font-weight="bold" font-style="normal" text-anchor="end" fill="#111">0</text>
<line x1="809.10" y1="724.90" x2="952.50" y2="724.90" stroke="#151515" stroke-width="1.8"/>
<line x1="845.50" y1="724.90" x2="845.50" y2="728.90" stroke="#151515" stroke-width="1.8"/>
<line x1="917.10" y1="724.90" x2="917.10" y2="728.90" stroke="#151515" stroke-width="1.8"/>
<rect x="824.80" y="695.70" width="40.60" height="19.40" fill="none" stroke="#8c8c8c" stroke-width="1.35"/>
<line x1="824.80" y1="708.90" x2="865.40" y2="708.90" stroke="#8c8c8c" stroke-width="1.35"/>
<line x1="845.10" y1="695.70" x2="845.10" y2="600.80" stroke="#8c8c8c" stroke-width="1.35"/>
<line x1="845.10" y1="715.10" x2="845.10" y2="720.50" stroke="#8c8c8c" stroke-width="1.35"/>
<line x1="835.70" y1="600.80" x2="855.00" y2="600.80" stroke="#8c8c8c" stroke-width="1.35"/>
<line x1="835.70" y1="720.50" x2="855.00" y2="720.50" stroke="#8c8c8c" stroke-width="1.35"/>
<rect x="896.40" y="699.80" width="41.40" height="16.60" fill="none" stroke="#8c8c8c" stroke-width="1.35"/>
<line x1="896.40" y1="713.80" x2="937.80" y2="713.80" stroke="#8c8c8c" stroke-width="1.35"/>
<line x1="917.10" y1="699.80" x2="917.10" y2="558.90" stroke="#8c8c8c" stroke-width="1.35"/>
<line x1="917.10" y1="716.40" x2="917.10" y2="721.00" stroke="#8c8c8c" stroke-width="1.35"/>
<line x1="906.80" y1="558.90" x2="926.10" y2="558.90" stroke="#8c8c8c" stroke-width="1.35"/>
<line x1="906.80" y1="721.00" x2="926.10" y2="721.00" stroke="#8c8c8c" stroke-width="1.35"/>
<line x1="842.90" y1="553.80" x2="915.30" y2="553.80" stroke="#333" stroke-width="1.4"/>
<text x="879.60" y="555.12" font-size="12" font-weight="bold" text-anchor="middle" fill="#333" textLength="10.00" lengthAdjust="spacing">**</text>
<text x="768.40" y="634.40" font-size="14.76" font-weight="bold" font-style="normal" text-anchor="middle" fill="#111" transform="rotate(-90 768.40 634.40)">Distance to closest</text>
<text x="785.80" y="634.40" font-size="14.56" font-weight="bold" font-style="normal" text-anchor="middle" fill="#111" transform="rotate(-90 785.80 634.40)">neighbor(cm)</text>
<g transform="translate(0.00,0)"><text x="786.00" y="741.00" font-size="12.84" font-weight="bold" font-style="italic" fill="#111">Myo1A-Gal4</text><text x="860.20" y="738.00" font-size="8.37" font-weight="bold" font-style="italic" fill="#111">TS</text><text x="870.90" y="741.00" font-size="13.68" font-weight="bold" font-style="italic" fill="#111">/</text></g>
<g transform="translate(0.00,0)"><text x="789.40" y="756.60" font-size="13.55" font-weight="bold" font-style="italic" fill="#111">kdm5</text><text x="824.80" y="750.80" font-size="7.77" font-weight="bold" font-style="italic" fill="#111">RNAi</text></g>
<g transform="translate(0.00,0)"><text x="880.80" y="741.00" font-size="12.77" font-weight="bold" font-style="italic" fill="#111">Myo1A-Gal4</text><text x="954.60" y="738.00" font-size="8.37" font-weight="bold" font-style="italic" fill="#111">TS</text><text x="965.30" y="741.00" font-size="13.68" font-weight="bold" font-style="italic" fill="#111">/</text></g>
<g transform="translate(0.00,0)"><text x="884.20" y="756.60" font-size="13.55" font-weight="bold" font-style="italic" fill="#111">kdm5</text><text x="919.60" y="750.80" font-size="7.77" font-weight="bold" font-style="italic" fill="#111">RNAi</text></g>
<text x="968.80" y="745.10" font-size="12.25" font-weight="bold" font-style="normal" text-anchor="start" fill="#111">+LP</text>
<text x="9.50" y="781.30" font-size="19.20" font-weight="bold" font-style="normal" text-anchor="start" fill="#111">L</text>
<line x1="69.20" y1="793.20" x2="69.20" y2="981.50" stroke="#151515" stroke-width="1.8"/>
<line x1="65.20" y1="793.50" x2="69.20" y2="793.50" stroke="#151515" stroke-width="1.8"/>
<text x="61.50" y="797.56" font-size="14.00" font-weight="bold" font-style="normal" text-anchor="end" fill="#111">50</text>
<line x1="65.20" y1="831.04" x2="69.20" y2="831.04" stroke="#151515" stroke-width="1.8"/>
<text x="61.50" y="835.10" font-size="14.00" font-weight="bold" font-style="normal" text-anchor="end" fill="#111">40</text>
<line x1="65.20" y1="868.58" x2="69.20" y2="868.58" stroke="#151515" stroke-width="1.8"/>
<text x="61.50" y="872.64" font-size="14.00" font-weight="bold" font-style="normal" text-anchor="end" fill="#111">30</text>
<line x1="65.20" y1="906.12" x2="69.20" y2="906.12" stroke="#151515" stroke-width="1.8"/>
<text x="61.50" y="910.18" font-size="14.00" font-weight="bold" font-style="normal" text-anchor="end" fill="#111">20</text>
<line x1="65.20" y1="943.66" x2="69.20" y2="943.66" stroke="#151515" stroke-width="1.8"/>
<text x="61.50" y="947.72" font-size="14.00" font-weight="bold" font-style="normal" text-anchor="end" fill="#111">10</text>
<line x1="65.20" y1="981.20" x2="69.20" y2="981.20" stroke="#151515" stroke-width="1.8"/>
<text x="61.50" y="985.26" font-size="14.00" font-weight="bold" font-style="normal" text-anchor="end" fill="#111">0</text>
<line x1="68.90" y1="981.20" x2="224.20" y2="981.20" stroke="#151515" stroke-width="1.8"/>
<line x1="108.20" y1="981.20" x2="108.20" y2="985.20" stroke="#151515" stroke-width="1.8"/>
<line x1="185.90" y1="981.20" x2="185.90" y2="985.20" stroke="#151515" stroke-width="1.8"/>
<rect x="88.90" y="898.80" width="38.90" height="82.40" fill="#000"/>
<line x1="108.35" y1="898.80" x2="108.35" y2="886.50" stroke="#666" stroke-width="1.3"/>
<line x1="99.00" y1="886.50" x2="117.70" y2="886.50" stroke="#3a3a3a" stroke-width="1.3"/>
<rect x="166.60" y="845.20" width="38.30" height="136.00" fill="#b6b7b9"/>
<line x1="185.75" y1="845.20" x2="185.75" y2="815.10" stroke="#3a3a3a" stroke-width="1.3"/>
<line x1="176.10" y1="815.10" x2="195.40" y2="815.10" stroke="#3a3a3a" stroke-width="1.3"/>
<line x1="107.20" y1="811.40" x2="186.60" y2="811.40" stroke="#555" stroke-width="1.4"/>
<text x="146.00" y="811.14" font-size="14" font-weight="bold" text-anchor="middle" fill="#333" textLength="5.50" lengthAdjust="spacing">*</text>
<text x="37.60" y="888.50" font-size="16.01" font-weight="bold" font-style="normal" text-anchor="middle" fill="#111" transform="rotate(-90 37.60 888.50)">Performance Index(%)</text>
<g transform="translate(0.00,0)"><text x="43.80" y="998.80" font-size="13.13" font-weight="bold" font-style="italic" fill="#111">Myo1A-Gal4</text><text x="119.70" y="995.30" font-size="6.26" font-weight="bold" font-style="italic" fill="#111">TS</text><text x="127.70" y="998.80" font-size="13.32" font-weight="bold" font-style="italic" fill="#111">/</text></g>
<g transform="translate(0.00,0)"><text x="47.50" y="1015.00" font-size="12.94" font-weight="bold" font-style="italic" fill="#111">kdm5</text><text x="81.30" y="1008.80" font-size="7.36" font-weight="bold" font-style="italic" fill="#111">RNAi</text></g>
<g transform="translate(0.00,0)"><text x="139.00" y="998.80" font-size="13.12" font-weight="bold" font-style="italic" fill="#111">Myo1A-Gal4</text><text x="214.80" y="995.30" font-size="6.26" font-weight="bold" font-style="italic" fill="#111">TS</text><text x="222.80" y="998.80" font-size="13.32" font-weight="bold" font-style="italic" fill="#111">/</text></g>
<g transform="translate(0.00,0)"><text x="142.70" y="1015.00" font-size="12.94" font-weight="bold" font-style="italic" fill="#111">kdm5</text><text x="176.50" y="1008.80" font-size="7.90" font-weight="bold" font-style="italic" fill="#111">RNAi</text></g>
<text x="226.60" y="1004.60" font-size="12.14" font-weight="bold" font-style="normal" text-anchor="start" fill="#111">+LP</text>
<text x="226.70" y="783.80" font-size="19.20" font-weight="bold" font-style="normal" text-anchor="start" fill="#111">M</text>
<line x1="311.50" y1="788.40" x2="311.50" y2="982.60" stroke="#151515" stroke-width="1.8"/>
<line x1="307.50" y1="788.70" x2="311.50" y2="788.70" stroke="#151515" stroke-width="1.8"/>
<text x="304.50" y="792.62" font-size="13.50" font-weight="bold" font-style="normal" text-anchor="end" fill="#111">6</text>
<line x1="307.50" y1="853.23" x2="311.50" y2="853.23" stroke="#151515" stroke-width="1.8"/>
<text x="304.50" y="857.14" font-size="13.50" font-weight="bold" font-style="normal" text-anchor="end" fill="#111">4</text>
<line x1="307.50" y1="917.77" x2="311.50" y2="917.77" stroke="#151515" stroke-width="1.8"/>
<text x="304.50" y="921.68" font-size="13.50" font-weight="bold" font-style="normal" text-anchor="end" fill="#111">2</text>
<line x1="307.50" y1="982.30" x2="311.50" y2="982.30" stroke="#151515" stroke-width="1.8"/>
<text x="304.50" y="986.21" font-size="13.50" font-weight="bold" font-style="normal" text-anchor="end" fill="#111">0</text>
<line x1="311.20" y1="982.30" x2="464.50" y2="982.30" stroke="#151515" stroke-width="1.8"/>
<line x1="349.40" y1="982.30" x2="349.40" y2="986.30" stroke="#151515" stroke-width="1.8"/>
<line x1="425.20" y1="982.30" x2="425.20" y2="986.30" stroke="#151515" stroke-width="1.8"/>
<rect x="327.80" y="961.00" width="43.50" height="13.50" fill="none" stroke="#333" stroke-width="1.5"/>
<line x1="327.80" y1="970.30" x2="371.30" y2="970.30" stroke="#333" stroke-width="1.5"/>
<line x1="349.55" y1="961.00" x2="349.55" y2="831.40" stroke="#333" stroke-width="1.5"/>
<line x1="349.55" y1="974.50" x2="349.55" y2="977.30" stroke="#333" stroke-width="1.5"/>
<line x1="339.60" y1="831.40" x2="360.60" y2="831.40" stroke="#333" stroke-width="1.5"/>
<line x1="339.60" y1="977.30" x2="360.60" y2="977.30" stroke="#333" stroke-width="1.5"/>
<rect x="404.10" y="966.60" width="43.50" height="9.30" fill="none" stroke="#8c8c8c" stroke-width="1.35"/>
<line x1="404.10" y1="973.60" x2="447.60" y2="973.60" stroke="#8c8c8c" stroke-width="1.35"/>
<line x1="425.85" y1="966.60" x2="425.85" y2="812.60" stroke="#8c8c8c" stroke-width="1.35"/>
<line x1="425.85" y1="975.90" x2="425.85" y2="978.70" stroke="#8c8c8c" stroke-width="1.35"/>
<line x1="415.40" y1="812.60" x2="436.40" y2="812.60" stroke="#8c8c8c" stroke-width="1.35"/>
<line x1="415.40" y1="978.70" x2="436.40" y2="978.70" stroke="#8c8c8c" stroke-width="1.35"/>
<line x1="348.00" y1="806.10" x2="423.80" y2="806.10" stroke="#333" stroke-width="1.4"/>
<text x="386.70" y="807.64" font-size="14" font-weight="bold" text-anchor="middle" fill="#333" textLength="5.50" lengthAdjust="spacing">*</text>
<text x="268.00" y="885.30" font-size="15.86" font-weight="bold" font-style="normal" text-anchor="middle" fill="#111" transform="rotate(-90 268.00 885.30)">Distance to closest</text>
<text x="287.00" y="886.00" font-size="15.81" font-weight="bold" font-style="normal" text-anchor="middle" fill="#111" transform="rotate(-90 287.00 886.00)">neighbor(cm)</text>
<g transform="translate(0.00,0)"><text x="288.80" y="998.80" font-size="13.22" font-weight="bold" font-style="italic" fill="#111">Myo1A-Gal4</text><text x="365.20" y="995.30" font-size="6.65" font-weight="bold" font-style="italic" fill="#111">TS</text><text x="373.70" y="998.80" font-size="13.32" font-weight="bold" font-style="italic" fill="#111">/</text></g>
<g transform="translate(0.00,0)"><text x="292.50" y="1015.00" font-size="12.94" font-weight="bold" font-style="italic" fill="#111">kdm5</text><text x="326.30" y="1008.80" font-size="8.43" font-weight="bold" font-style="italic" fill="#111">RNAi</text></g>
<g transform="translate(0.00,0)"><text x="382.20" y="998.80" font-size="13.19" font-weight="bold" font-style="italic" fill="#111">Myo1A-Gal4</text><text x="458.40" y="995.30" font-size="6.65" font-weight="bold" font-style="italic" fill="#111">TS</text><text x="466.90" y="998.80" font-size="13.32" font-weight="bold" font-style="italic" fill="#111">/</text></g>
<g transform="translate(0.00,0)"><text x="386.50" y="1015.00" font-size="12.94" font-weight="bold" font-style="italic" fill="#111">kdm5</text><text x="420.30" y="1008.80" font-size="7.98" font-weight="bold" font-style="italic" fill="#111">RNAi</text></g>
<text x="442.30" y="1015.00" font-size="12.94" font-weight="bold" font-style="normal" text-anchor="start" fill="#111">+Antibiotics</text>
<text x="512.50" y="780.00" font-size="19.20" font-weight="bold" font-style="normal" text-anchor="start" fill="#111">N</text>
<line x1="568.90" y1="791.80" x2="568.90" y2="983.80" stroke="#151515" stroke-width="1.8"/>
<line x1="564.90" y1="792.10" x2="568.90" y2="792.10" stroke="#151515" stroke-width="1.8"/>
<text x="561.00" y="796.16" font-size="14.00" font-weight="bold" font-style="normal" text-anchor="end" fill="#111">40</text>
<line x1="564.90" y1="839.95" x2="568.90" y2="839.95" stroke="#151515" stroke-width="1.8"/>
<text x="561.00" y="844.01" font-size="14.00" font-weight="bold" font-style="normal" text-anchor="end" fill="#111">30</text>
<line x1="564.90" y1="887.80" x2="568.90" y2="887.80" stroke="#151515" stroke-width="1.8"/>
<text x="561.00" y="891.86" font-size="14.00" font-weight="bold" font-style="normal" text-anchor="end" fill="#111">20</text>
<line x1="564.90" y1="935.65" x2="568.90" y2="935.65" stroke="#151515" stroke-width="1.8"/>
<text x="561.00" y="939.71" font-size="14.00" font-weight="bold" font-style="normal" text-anchor="end" fill="#111">10</text>
<line x1="564.90" y1="983.50" x2="568.90" y2="983.50" stroke="#151515" stroke-width="1.8"/>
<text x="561.00" y="987.56" font-size="14.00" font-weight="bold" font-style="normal" text-anchor="end" fill="#111">0</text>
<line x1="568.60" y1="983.50" x2="721.00" y2="983.50" stroke="#151515" stroke-width="1.8"/>
<line x1="606.50" y1="983.50" x2="606.50" y2="987.50" stroke="#151515" stroke-width="1.8"/>
<line x1="682.90" y1="983.50" x2="682.90" y2="987.50" stroke="#151515" stroke-width="1.8"/>
<rect x="587.70" y="915.80" width="37.60" height="67.70" fill="#000"/>
<line x1="606.50" y1="915.80" x2="606.50" y2="888.00" stroke="#666" stroke-width="1.3"/>
<line x1="597.20" y1="888.00" x2="615.70" y2="888.00" stroke="#3a3a3a" stroke-width="1.3"/>
<rect x="664.00" y="854.00" width="37.70" height="129.50" fill="#9c9d9f"/>
<line x1="682.85" y1="854.00" x2="682.85" y2="820.40" stroke="#3a3a3a" stroke-width="1.3"/>
<line x1="674.10" y1="820.40" x2="692.10" y2="820.40" stroke="#3a3a3a" stroke-width="1.3"/>
<line x1="604.00" y1="816.90" x2="682.10" y2="816.90" stroke="#444" stroke-width="1.4"/>
<text x="644.00" y="818.54" font-size="14" font-weight="bold" text-anchor="middle" fill="#333" textLength="5.50" lengthAdjust="spacing">*</text>
<text x="537.60" y="887.10" font-size="15.78" font-weight="bold" font-style="normal" text-anchor="middle" fill="#111" transform="rotate(-90 537.60 887.10)">Performance Index(%)</text>
<g transform="translate(0.00,0)"><text x="546.30" y="1000.00" font-size="13.31" font-weight="bold" font-style="italic" fill="#111">Myo1A-Gal4</text><text x="623.20" y="996.50" font-size="6.65" font-weight="bold" font-style="italic" fill="#111">TS</text><text x="631.70" y="1000.00" font-size="13.32" font-weight="bold" font-style="italic" fill="#111">/</text></g>
<g transform="translate(0.00,0)"><text x="550.00" y="1015.80" font-size="12.98" font-weight="bold" font-style="italic" fill="#111">kdm5</text><text x="583.90" y="1009.60" font-size="8.43" font-weight="bold" font-style="italic" fill="#111">RNAi</text></g>
<g transform="translate(0.00,0)"><text x="639.70" y="1000.00" font-size="13.31" font-weight="bold" font-style="italic" fill="#111">Myo1A-Gal4</text><text x="716.60" y="996.50" font-size="6.65" font-weight="bold" font-style="italic" fill="#111">TS</text><text x="725.10" y="1000.00" font-size="13.32" font-weight="bold" font-style="italic" fill="#111">/</text></g>
<g transform="translate(0.00,0)"><text x="643.20" y="1015.80" font-size="12.94" font-weight="bold" font-style="italic" fill="#111">kdm5</text><text x="677.00" y="1009.60" font-size="7.69" font-weight="bold" font-style="italic" fill="#111">RNAi</text></g>
<text x="699.10" y="1015.80" font-size="13.06" font-weight="bold" font-style="normal" text-anchor="start" fill="#111">+Antibiotics</text>
<text x="756.80" y="786.20" font-size="19.20" font-weight="bold" font-style="normal" text-anchor="start" fill="#111">O</text>
<line x1="813.70" y1="797.50" x2="813.70" y2="981.20" stroke="#151515" stroke-width="1.8"/>
<line x1="809.70" y1="797.80" x2="813.70" y2="797.80" stroke="#151515" stroke-width="1.8"/>
<text x="807.00" y="801.71" font-size="13.50" font-weight="bold" font-style="normal" text-anchor="end" fill="#111">20</text>
<line x1="809.70" y1="843.58" x2="813.70" y2="843.58" stroke="#151515" stroke-width="1.8"/>
<text x="807.00" y="847.50" font-size="13.50" font-weight="bold" font-style="normal" text-anchor="end" fill="#111">15</text>
<line x1="809.70" y1="889.35" x2="813.70" y2="889.35" stroke="#151515" stroke-width="1.8"/>
<text x="807.00" y="893.26" font-size="13.50" font-weight="bold" font-style="normal" text-anchor="end" fill="#111">10</text>
<line x1="809.70" y1="935.13" x2="813.70" y2="935.13" stroke="#151515" stroke-width="1.8"/>
<text x="807.00" y="939.04" font-size="13.50" font-weight="bold" font-style="normal" text-anchor="end" fill="#111">5</text>
<line x1="809.70" y1="980.90" x2="813.70" y2="980.90" stroke="#151515" stroke-width="1.8"/>
<text x="807.00" y="984.81" font-size="13.50" font-weight="bold" font-style="normal" text-anchor="end" fill="#111">0</text>
<line x1="813.40" y1="980.90" x2="958.50" y2="980.90" stroke="#151515" stroke-width="1.8"/>
<line x1="849.10" y1="980.90" x2="849.10" y2="984.90" stroke="#151515" stroke-width="1.8"/>
<line x1="921.70" y1="980.90" x2="921.70" y2="984.90" stroke="#151515" stroke-width="1.8"/>
<rect x="829.2" y="912.8" width="40.1" height="68.1" rx="2" fill="#000"/>
<line x1="838.00" y1="912.40" x2="861.00" y2="912.40" stroke="#222" stroke-width="1.3"/>
<rect x="904.20" y="867.60" width="35.60" height="113.30" fill="#9c9d9f"/>
<line x1="922.00" y1="867.60" x2="922.00" y2="848.80" stroke="#3a3a3a" stroke-width="1.3"/>
<line x1="912.70" y1="848.80" x2="930.80" y2="848.80" stroke="#3a3a3a" stroke-width="1.3"/>
<line x1="837.00" y1="842.60" x2="922.30" y2="842.60" stroke="#888" stroke-width="1.5"/>
<text x="882.20" y="843.74" font-size="14" font-weight="bold" text-anchor="middle" fill="#333" textLength="5.50" lengthAdjust="spacing">*</text>
<text x="780.80" y="881.20" font-size="15.30" font-weight="bold" font-style="normal" text-anchor="middle" fill="#111" transform="rotate(-90 780.80 881.20)">5-HT content (ng/mg)</text>
<text x="843.30" y="999.90" font-size="12.24" font-weight="bold" font-style="italic" text-anchor="start" fill="#111">wt</text>
<g transform="translate(0.00,0)"><text x="886.40" y="999.90" font-size="13.21" font-weight="bold" font-style="italic" fill="#111">kdm5</text><text x="920.90" y="991.80" font-size="7.56" font-weight="bold" font-style="italic" fill="#111">K6801/10424</text></g>
<text x="9.50" y="1055.50" font-size="19.20" font-weight="bold" font-style="normal" text-anchor="start" fill="#111">P</text>
<line x1="66.30" y1="1060.20" x2="66.30" y2="1243.00" stroke="#151515" stroke-width="1.8"/>
<line x1="62.30" y1="1060.50" x2="66.30" y2="1060.50" stroke="#151515" stroke-width="1.8"/>
<text x="60.00" y="1064.41" font-size="13.50" font-weight="bold" font-style="normal" text-anchor="end" fill="#111">15</text>
<line x1="62.30" y1="1121.23" x2="66.30" y2="1121.23" stroke="#151515" stroke-width="1.8"/>
<text x="60.00" y="1125.14" font-size="13.50" font-weight="bold" font-style="normal" text-anchor="end" fill="#111">10</text>
<line x1="62.30" y1="1181.97" x2="66.30" y2="1181.97" stroke="#151515" stroke-width="1.8"/>
<text x="60.00" y="1185.88" font-size="13.50" font-weight="bold" font-style="normal" text-anchor="end" fill="#111">5</text>
<line x1="62.30" y1="1242.70" x2="66.30" y2="1242.70" stroke="#151515" stroke-width="1.8"/>
<text x="60.00" y="1246.62" font-size="13.50" font-weight="bold" font-style="normal" text-anchor="end" fill="#111">0</text>
<line x1="66.10" y1="1242.70" x2="209.20" y2="1242.70" stroke="#151515" stroke-width="1.8"/>
<line x1="102.20" y1="1242.70" x2="102.20" y2="1246.70" stroke="#151515" stroke-width="1.8"/>
<line x1="173.60" y1="1242.70" x2="173.60" y2="1246.70" stroke="#151515" stroke-width="1.8"/>
<rect x="84.40" y="1141.20" width="35.30" height="101.50" fill="#000"/>
<line x1="102.05" y1="1141.20" x2="102.05" y2="1091.40" stroke="#666" stroke-width="1.3"/>
<line x1="94.00" y1="1091.40" x2="110.70" y2="1091.40" stroke="#3a3a3a" stroke-width="1.3"/>
<rect x="156.00" y="1175.30" width="35.60" height="67.40" fill="#9c9d9f"/>
<line x1="173.80" y1="1175.30" x2="173.80" y2="1135.20" stroke="#3a3a3a" stroke-width="1.3"/>
<line x1="164.00" y1="1135.20" x2="182.40" y2="1135.20" stroke="#3a3a3a" stroke-width="1.3"/>
<line x1="102.20" y1="1086.60" x2="175.40" y2="1086.60" stroke="#777" stroke-width="1.5"/>
<text x="140.30" y="1085.14" font-size="14" font-weight="bold" text-anchor="middle" fill="#333" textLength="5.50" lengthAdjust="spacing">*</text>
<text x="37.50" y="1146.20" font-size="15.37" font-weight="bold" font-style="normal" text-anchor="middle" fill="#111" transform="rotate(-90 37.50 1146.20)">5-HT content(ng/mg)</text>
<g transform="translate(0.00,0)"><text x="65.60" y="1260.20" font-size="13.05" font-weight="bold" font-style="italic" fill="#111">kdm5</text><text x="99.70" y="1252.70" font-size="7.71" font-weight="bold" font-style="italic" fill="#111">K6801/10424</text></g>
<g transform="translate(0.00,0)"><text x="147.80" y="1260.20" font-size="12.94" font-weight="bold" font-style="italic" fill="#111">kdm5</text><text x="181.60" y="1252.70" font-size="7.73" font-weight="bold" font-style="italic" fill="#111">K6801/10424</text></g>
<text x="229.20" y="1259.50" font-size="11.13" font-weight="bold" font-style="normal" text-anchor="start" fill="#111">+</text>
<text x="167.30" y="1272.20" font-size="13.20" font-weight="bold" font-style="normal" text-anchor="start" fill="#111">Antibiotics</text>
<text x="244.50" y="1060.00" font-size="19.20" font-weight="bold" font-style="normal" text-anchor="start" fill="#111">Q</text>
<line x1="311.60" y1="1056.20" x2="311.60" y2="1243.00" stroke="#151515" stroke-width="1.8"/>
<line x1="307.60" y1="1056.50" x2="311.60" y2="1056.50" stroke="#151515" stroke-width="1.8"/>
<text x="303.70" y="1060.50" font-size="13.80" font-weight="bold" font-style="normal" text-anchor="end" fill="#111">30</text>
<line x1="307.60" y1="1118.57" x2="311.60" y2="1118.57" stroke="#151515" stroke-width="1.8"/>
<text x="303.70" y="1122.57" font-size="13.80" font-weight="bold" font-style="normal" text-anchor="end" fill="#111">20</text>
<line x1="307.60" y1="1180.63" x2="311.60" y2="1180.63" stroke="#151515" stroke-width="1.8"/>
<text x="303.70" y="1184.63" font-size="13.80" font-weight="bold" font-style="normal" text-anchor="end" fill="#111">10</text>
<line x1="307.60" y1="1242.70" x2="311.60" y2="1242.70" stroke="#151515" stroke-width="1.8"/>
<text x="303.70" y="1246.70" font-size="13.80" font-weight="bold" font-style="normal" text-anchor="end" fill="#111">0</text>
<line x1="311.30" y1="1242.70" x2="454.90" y2="1242.70" stroke="#151515" stroke-width="1.8"/>
<line x1="348.20" y1="1242.70" x2="348.20" y2="1246.70" stroke="#151515" stroke-width="1.8"/>
<line x1="420.40" y1="1242.70" x2="420.40" y2="1246.70" stroke="#151515" stroke-width="1.8"/>
<rect x="329.70" y="1081.10" width="36.30" height="161.60" fill="#000"/>
<line x1="347.85" y1="1081.10" x2="347.85" y2="1074.80" stroke="#666" stroke-width="1.3"/>
<line x1="339.00" y1="1074.80" x2="357.70" y2="1074.80" stroke="#3a3a3a" stroke-width="1.3"/>
<rect x="402.80" y="1106.20" width="36.30" height="136.50" fill="#9c9d9f"/>
<line x1="420.95" y1="1106.20" x2="420.95" y2="1098.60" stroke="#3a3a3a" stroke-width="1.3"/>
<line x1="411.60" y1="1098.60" x2="429.90" y2="1098.60" stroke="#3a3a3a" stroke-width="1.3"/>
<line x1="346.50" y1="1071.10" x2="420.40" y2="1071.10" stroke="#555" stroke-width="1.4"/>
<text x="386.00" y="1070.14" font-size="14" font-weight="bold" text-anchor="middle" fill="#333" textLength="5.50" lengthAdjust="spacing">*</text>
<text x="280.30" y="1144.30" font-size="15.51" font-weight="bold" font-style="normal" text-anchor="middle" fill="#111" transform="rotate(-90 280.30 1144.30)">5-HT content(ng/mg)</text>
<g transform="translate(0.00,0)"><text x="307.10" y="1262.70" font-size="13.17" font-weight="bold" font-style="italic" fill="#111">kdm5</text><text x="341.50" y="1254.00" font-size="7.83" font-weight="bold" font-style="italic" fill="#111">K6801/10424</text></g>
<g transform="translate(0.00,0)"><text x="391.60" y="1262.70" font-size="13.40" font-weight="bold" font-style="italic" fill="#111">kdm5</text><text x="426.60" y="1254.00" font-size="7.43" font-weight="bold" font-style="italic" fill="#111">K6801/10424</text></g>
<text x="473.00" y="1262.50" font-size="12.35" font-weight="bold" font-style="normal" text-anchor="start" fill="#111">+LP</text>
<text x="517.00" y="1060.60" font-size="19.20" font-weight="bold" font-style="normal" text-anchor="start" fill="#111">R</text>
<line x1="569.70" y1="1055.70" x2="569.70" y2="1241.70" stroke="#151515" stroke-width="1.8"/>
<line x1="565.70" y1="1056.00" x2="569.70" y2="1056.00" stroke="#151515" stroke-width="1.8"/>
<text x="563.10" y="1059.91" font-size="13.50" font-weight="bold" font-style="normal" text-anchor="end" fill="#111">40</text>
<line x1="565.70" y1="1102.35" x2="569.70" y2="1102.35" stroke="#151515" stroke-width="1.8"/>
<text x="563.10" y="1106.26" font-size="13.50" font-weight="bold" font-style="normal" text-anchor="end" fill="#111">30</text>
<line x1="565.70" y1="1148.70" x2="569.70" y2="1148.70" stroke="#151515" stroke-width="1.8"/>
<text x="563.10" y="1152.62" font-size="13.50" font-weight="bold" font-style="normal" text-anchor="end" fill="#111">20</text>
<line x1="565.70" y1="1195.05" x2="569.70" y2="1195.05" stroke="#151515" stroke-width="1.8"/>
<text x="563.10" y="1198.96" font-size="13.50" font-weight="bold" font-style="normal" text-anchor="end" fill="#111">10</text>
<line x1="565.70" y1="1241.40" x2="569.70" y2="1241.40" stroke="#151515" stroke-width="1.8"/>
<text x="563.10" y="1245.32" font-size="13.50" font-weight="bold" font-style="normal" text-anchor="end" fill="#111">0</text>
<text x="573.90" y="1060.60" font-size="14.14" font-weight="normal" font-style="normal" text-anchor="start" fill="#111">Head</text>
<line x1="569.40" y1="1241.40" x2="716.70" y2="1241.40" stroke="#151515" stroke-width="1.8"/>
<line x1="606.50" y1="1241.40" x2="606.50" y2="1245.40" stroke="#151515" stroke-width="1.8"/>
<line x1="679.10" y1="1241.40" x2="679.10" y2="1245.40" stroke="#151515" stroke-width="1.8"/>
<rect x="588.20" y="1119.90" width="36.60" height="121.50" fill="#000"/>
<line x1="606.50" y1="1119.90" x2="606.50" y2="1109.90" stroke="#666" stroke-width="1.3"/>
<line x1="597.70" y1="1109.90" x2="615.30" y2="1109.90" stroke="#3a3a3a" stroke-width="1.3"/>
<rect x="661.60" y="1098.60" width="36.30" height="142.80" fill="#9c9d9f"/>
<line x1="679.75" y1="1098.60" x2="679.75" y2="1094.10" stroke="#3a3a3a" stroke-width="1.3"/>
<line x1="670.40" y1="1094.10" x2="689.20" y2="1094.10" stroke="#3a3a3a" stroke-width="1.3"/>
<line x1="604.70" y1="1089.90" x2="678.40" y2="1089.90" stroke="#555" stroke-width="1.4"/>
<text x="641.60" y="1090.74" font-size="14" font-weight="bold" text-anchor="middle" fill="#333" textLength="5.50" lengthAdjust="spacing">*</text>
<text x="540.60" y="1146.30" font-size="15.39" font-weight="bold" font-style="normal" text-anchor="middle" fill="#111" transform="rotate(-90 540.60 1146.30)">5-HT content(ng/fly)</text>
<g transform="translate(0.00,0)"><text x="536.30" y="1260.20" font-size="13.01" font-weight="bold" font-style="italic" fill="#111">Myo1A-Gal4</text><text x="611.50" y="1255.70" font-size="7.04" font-weight="bold" font-style="italic" fill="#111">TS</text><text x="620.50" y="1260.20" font-size="15.08" font-weight="bold" font-style="italic" fill="#111">/+</text></g>
<g transform="translate(0.00,0)"><text x="643.30" y="1260.20" font-size="13.13" font-weight="bold" font-style="italic" fill="#111">Myo1A-Gal4</text><text x="719.20" y="1255.70" font-size="7.04" font-weight="bold" font-style="italic" fill="#111">TS</text><text x="728.20" y="1260.20" font-size="13.32" font-weight="bold" font-style="italic" fill="#111">/</text></g>
<g transform="translate(0.00,0)"><text x="649.00" y="1274.00" font-size="12.98" font-weight="bold" font-style="italic" fill="#111">kdm5</text><text x="682.90" y="1267.80" font-size="8.02" font-weight="bold" font-style="italic" fill="#111">RNAi</text></g>
<text x="756.80" y="1056.90" font-size="19.20" font-weight="bold" font-style="normal" text-anchor="start" fill="#111">S</text>
<line x1="810.30" y1="1057.80" x2="810.30" y2="1242.00" stroke="#151515" stroke-width="1.8"/>
<line x1="806.30" y1="1058.10" x2="810.30" y2="1058.10" stroke="#151515" stroke-width="1.8"/>
<text x="804.20" y="1062.01" font-size="13.50" font-weight="bold" font-style="normal" text-anchor="end" fill="#111">15</text>
<line x1="806.30" y1="1119.30" x2="810.30" y2="1119.30" stroke="#151515" stroke-width="1.8"/>
<text x="804.20" y="1123.21" font-size="13.50" font-weight="bold" font-style="normal" text-anchor="end" fill="#111">10</text>
<line x1="806.30" y1="1180.50" x2="810.30" y2="1180.50" stroke="#151515" stroke-width="1.8"/>
<text x="804.20" y="1184.41" font-size="13.50" font-weight="bold" font-style="normal" text-anchor="end" fill="#111">5</text>
<line x1="806.30" y1="1241.70" x2="810.30" y2="1241.70" stroke="#151515" stroke-width="1.8"/>
<text x="804.20" y="1245.62" font-size="13.50" font-weight="bold" font-style="normal" text-anchor="end" fill="#111">0</text>
<text x="814.50" y="1060.70" font-size="14.26" font-weight="normal" font-style="normal" text-anchor="start" fill="#111">Head</text>
<line x1="810.00" y1="1241.70" x2="952.50" y2="1241.70" stroke="#151515" stroke-width="1.8"/>
<line x1="847.30" y1="1241.70" x2="847.30" y2="1245.70" stroke="#151515" stroke-width="1.8"/>
<line x1="921.00" y1="1241.70" x2="921.00" y2="1245.70" stroke="#151515" stroke-width="1.8"/>
<rect x="828.40" y="1091.80" width="37.00" height="149.90" fill="#000"/>
<line x1="846.90" y1="1091.80" x2="846.90" y2="1071.60" stroke="#666" stroke-width="1.3"/>
<line x1="837.70" y1="1071.60" x2="855.80" y2="1071.60" stroke="#3a3a3a" stroke-width="1.3"/>
<rect x="902.40" y="1161.60" width="36.70" height="80.10" fill="#9c9d9f"/>
<line x1="920.75" y1="1161.60" x2="920.75" y2="1123.30" stroke="#3a3a3a" stroke-width="1.3"/>
<line x1="912.00" y1="1123.30" x2="930.00" y2="1123.30" stroke="#3a3a3a" stroke-width="1.3"/>
<line x1="846.80" y1="1067.20" x2="919.70" y2="1067.20" stroke="#555" stroke-width="1.4"/>
<text x="883.00" y="1069.14" font-size="14" font-weight="bold" text-anchor="middle" fill="#333" textLength="5.50" lengthAdjust="spacing">*</text>
<text x="781.30" y="1148.00" font-size="15.46" font-weight="bold" font-style="normal" text-anchor="middle" fill="#111" transform="rotate(-90 781.30 1148.00)">5-HT content(ng/fly)</text>
<g transform="translate(0.00,0)"><text x="787.00" y="1258.50" font-size="12.89" font-weight="bold" font-style="italic" fill="#111">Myo1A-Gal4</text><text x="861.50" y="1254.00" font-size="7.04" font-weight="bold" font-style="italic" fill="#111">TS</text><text x="870.50" y="1258.50" font-size="13.32" font-weight="bold" font-style="italic" fill="#111">/</text></g>
<g transform="translate(0.00,0)"><text x="791.20" y="1274.00" font-size="13.05" font-weight="bold" font-style="italic" fill="#111">kdm5</text><text x="825.30" y="1267.80" font-size="7.94" font-weight="bold" font-style="italic" fill="#111">RNAi</text></g>
<g transform="translate(0.00,0)"><text x="882.20" y="1258.50" font-size="12.98" font-weight="bold" font-style="italic" fill="#111">Myo1A-Gal4</text><text x="957.20" y="1254.00" font-size="7.04" font-weight="bold" font-style="italic" fill="#111">TS</text><text x="966.20" y="1258.50" font-size="13.32" font-weight="bold" font-style="italic" fill="#111">/</text></g>
<g transform="translate(0.00,0)"><text x="886.00" y="1274.00" font-size="12.90" font-weight="bold" font-style="italic" fill="#111">kdm5</text><text x="919.70" y="1267.80" font-size="7.94" font-weight="bold" font-style="italic" fill="#111">RNAi</text></g>
<text x="968.80" y="1263.50" font-size="12.46" font-weight="bold" font-style="normal" text-anchor="start" fill="#111">+LP</text>

</svg></body></html>
